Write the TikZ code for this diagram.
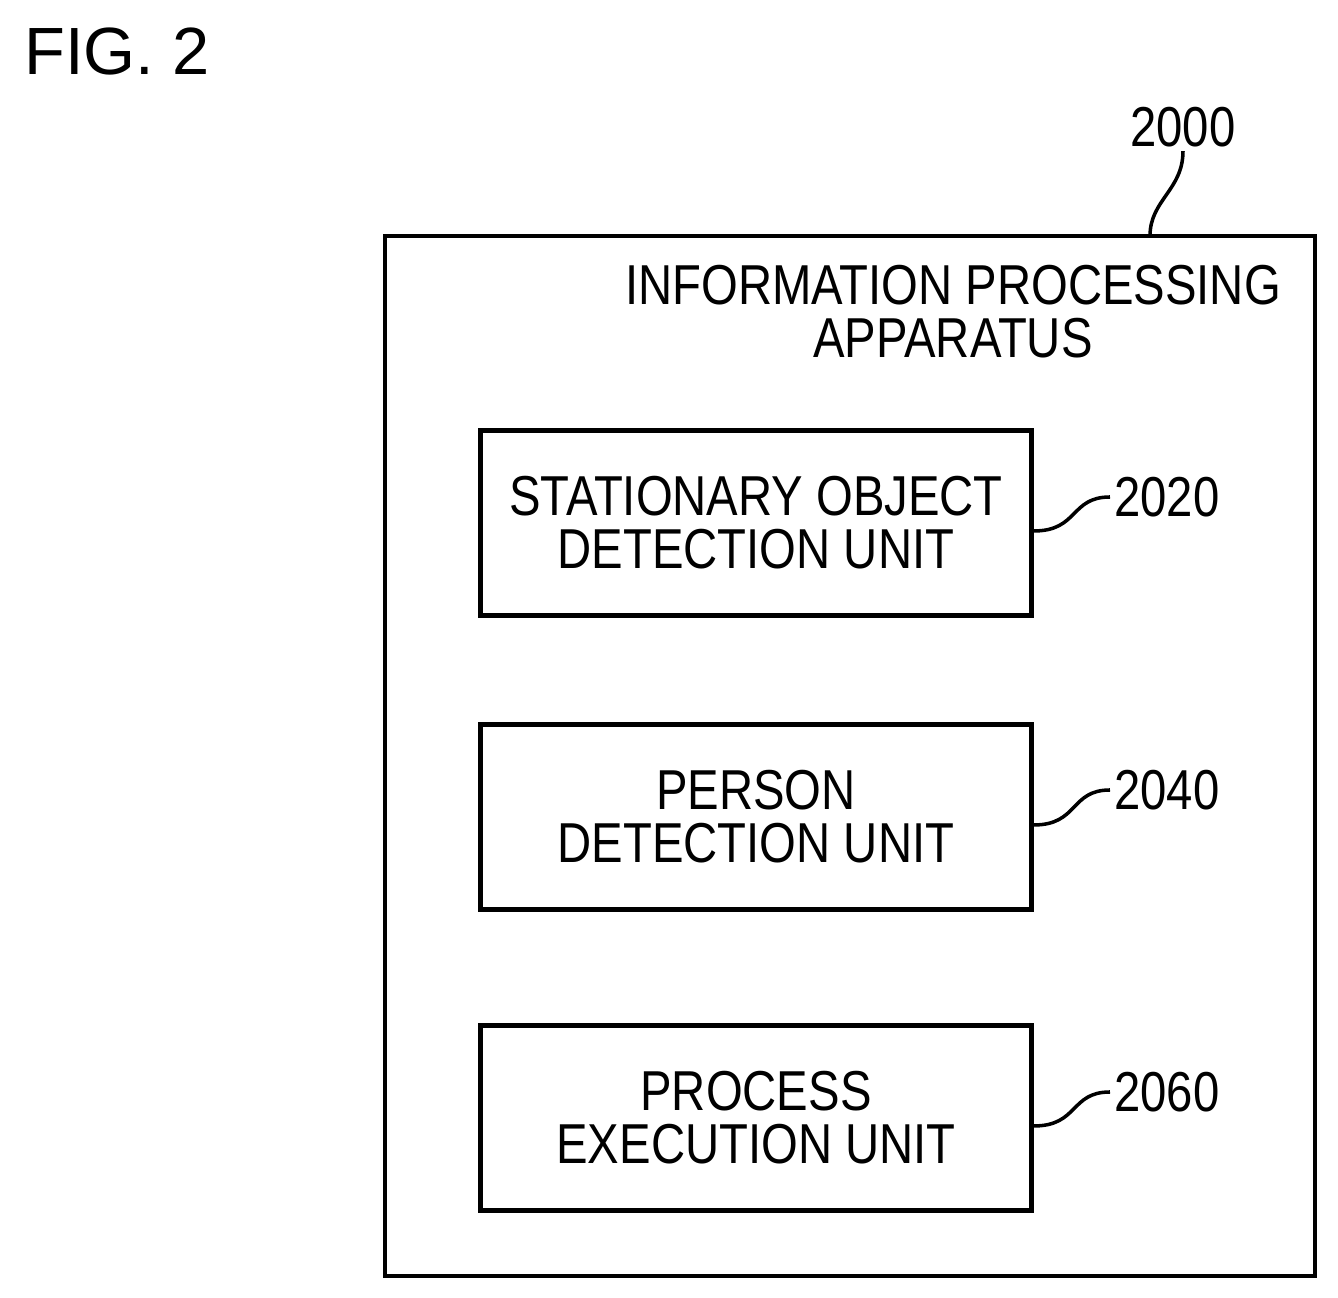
\documentclass[tikz,border=0pt]{standalone}
\usepackage{fontspec}
\setmainfont{Liberation Sans}
\newfontfamily\narrowfont[FakeStretch=0.84]{Liberation Sans}
\begin{document}
\begin{tikzpicture}[x=0.01cm,y=-0.01cm,
	unit/.style={draw,line width=1.4pt,minimum width=5.5cm,minimum height=1.85cm,align=center,font=\narrowfont\fontsize{16}{15}\selectfont},
	refnum/.style={font=\narrowfont\fontsize{16}{15}\selectfont,inner sep=1pt},
	leader/.style={line width=1pt}]
	\useasboundingbox (0,0) rectangle (1338,1298);
	% заголовок
	\node[anchor=west,font=\fontsize{19}{20}\selectfont] (fig) at ( 12, 52 ) {FIG. 2};

	% устройство
	\draw[line width=1.4pt] ( 385, 236 ) rectangle ( 1315, 1276 );
	\coordinate (apptop) at ( 1150, 236 );
	\node[refnum] (n2000) at ( 1183, 127 ) {2000};
	\node[refnum,align=center] (appname) at ( 953, 312 ) {INFORMATION PROCESSING\\APPARATUS};
	\draw[leader] (apptop) .. controls ( 1150, 200 ) and ( 1183, 190 ) .. (n2000.south);

	% блоки
	\node[unit] (stat) at ( 756, 523 ) {STATIONARY OBJECT\\DETECTION UNIT};
	\node[unit] (pers) at ( 756, 817 ) {PERSON\\DETECTION UNIT};
	\node[unit] (proc) at ( 756, 1118 ) {PROCESS\\EXECUTION UNIT};

	\node[refnum,anchor=west] (n2020) at ( 1110, 497 ) {2020};
	\node[refnum,anchor=west] (n2040) at ( 1110, 790 ) {2040};
	\node[refnum,anchor=west] (n2060) at ( 1110, 1092 ) {2060};

	\foreach \u/\n in {stat/n2020, pers/n2040, proc/n2060}
		\draw[leader] ([yshift=-0.08cm]\u.east) .. controls +( 45, 0 ) and +( -40, 0 ) .. (\n.west);
\end{tikzpicture}
\end{document}
